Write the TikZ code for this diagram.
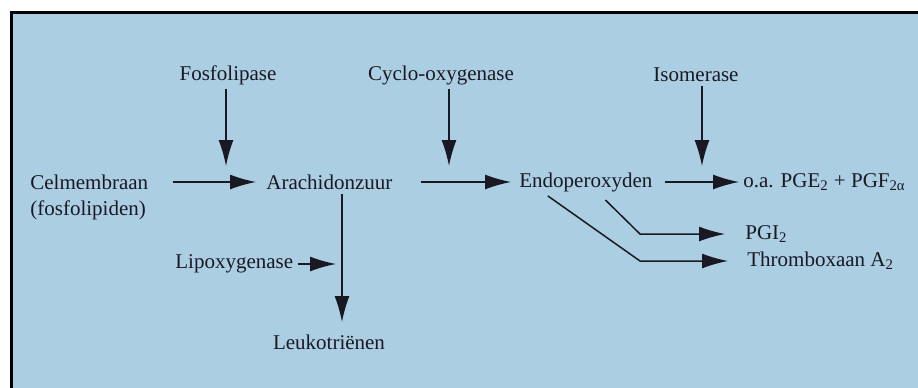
\documentclass[tikz,border=0pt]{standalone}
\usepackage{fontspec}
\setmainfont{Liberation Serif}
\usetikzlibrary{arrows.meta}
\usepackage{xcolor}
\definecolor{panelc}{RGB}{172,206,226}
\definecolor{inkc}{RGB}{25,25,35}
\tikzset{
  lbl/.style={inner sep=2pt, anchor=west, text=inkc, font=\fontsize{10.5}{12.5}\selectfont},
  flow/.style={-{Latex[length=13pt,width=7.5pt]}, line width=0.75pt, inkc},
  frame/.style={draw=black, line width=1.5pt, fill=panelc}
}

\begin{document}
\begin{tikzpicture}[x=0.5pt,y=-0.5pt]
  \useasboundingbox (0,0) rectangle (918,387);
  \fill[white] (0,0) rectangle (918,387);
  \draw[frame] (11,12) rectangle (940,410);

  % enzymes
  \node[lbl, anchor=center] (fosfo) at (228,75) {Fosfolipase};
  \node[lbl, anchor=center] (cyclo) at (441,75) {Cyclo-oxygenase};
  \node[lbl, anchor=center] (iso) at (696,75) {Isomerase};
  \node[lbl] (lipoxy) at (171,264) {Lipoxygenase};

  % pathway
  \node[lbl] (celm) at (26,182) {Celmembraan};
  \node[lbl] (lipid) at (26,210) {(fosfolipiden)};
  \node[lbl] (arach) at (262,182) {Arachidonzuur};
  \node[lbl] (endo) at (515,182) {Endoperoxyden};
  \node[lbl] (prod) at (739,182) {o.a. PGE\textsubscript{2} + PGF\textsubscript{2α}};
  \node[lbl] (pgi) at (741,234) {PGI\textsubscript{2}};
  \node[lbl] (thromb) at (743,261) {Thromboxaan A\textsubscript{2}};
  \node[lbl, anchor=center] (leuko) at (329,342) {Leukotriënen};

  \coordinate (fosfotip) at (226,166);
  \coordinate (cyclotip) at (449,166);
  \coordinate (isotip) at (702,166);
  \coordinate (leukotip) at (342,322);
  \coordinate (bend) at (640,0);

  \draw[flow] (fosfotip |- fosfo.south) -- (fosfotip);
  \draw[flow] (cyclotip |- cyclo.south) -- (cyclotip);
  \draw[flow] (isotip |- iso.south) -- (isotip);
  \draw[flow] ([xshift=10pt]celm.east) -- ([xshift=-3pt]arach.west);
  \draw[flow] ([xshift=12pt]arach.east) -- ([xshift=-2pt]endo.west);
  \draw[flow] ([xshift=4pt]endo.east) -- (prod.west);
  \draw[flow] (leukotip |- arach.south) -- (leukotip);
  \draw[flow] (lipoxy.east) -- ([xshift=-3pt]leukotip |- lipoxy.east);
  \draw[flow] ([xshift=9.75pt,yshift=-2pt]endo.south) -- (bend |- pgi.west) -- ([xshift=-8pt]pgi.west);
  \draw[flow] ([xshift=-19pt]endo.south) -- (bend |- thromb.west) -- ([xshift=-7.5pt]thromb.west);
\end{tikzpicture}
\end{document}
